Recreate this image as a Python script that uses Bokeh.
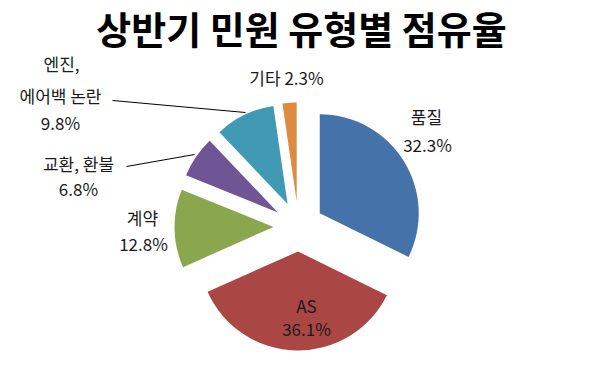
import math
from bokeh.plotting import figure
from bokeh.models import Range1d
from bokeh.core.properties import value
from bokeh.embed import file_html
from bokeh.resources import INLINE

# ---- data ----
title_text = "상반기 민원 유형별 점유율"
categories = ["품질", "AS", "계약", "교환, 환불", "엔진, 에어백 논란", "기타"]
shares = [32.3, 36.1, 12.8, 6.8, 9.8, 2.3]
colors = ["#4672AA", "#AA4644", "#8AA64F", "#6F5596", "#409AB4", "#DE8A41"]

# label lines per category (name parts)
label_lines = [["품질"], ["AS"], ["계약"], ["교환, 환불"], ["엔진,", "에어백 논란"], []]

# ---- layout (pixel-like coordinates, y measured from top of the window) ----
FW, FH = 592, 359
def Y(y):
    return FH - y

p = figure(width=FW, height=FH, output_backend="svg", toolbar_location=None,
           x_range=Range1d(0, FW), y_range=Range1d(0, FH), min_border=0)
p.axis.visible = False
p.grid.visible = False
p.outline_line_color = None
p.background_fill_color = "white"
p.border_fill_color = "white"

FONT = "Noto Sans CJK KR"

# title
p.text(x=[301], y=[Y(27)], text=[title_text], text_font=value(FONT), text_font_size="38px",
       text_font_style="bold", text_align="center", text_baseline="middle", text_color="#000000")

# pie
cx, cy = 298, Y(226)
radius = 99
explode = 25
total = sum(shares)
cum = 0.0
xs, ys, starts, ends = [], [], [], []
for v in shares:
    a0 = cum / total * 360.0
    a1 = (cum + v) / total * 360.0
    mid = math.radians((a0 + a1) / 2)
    xs.append(cx + explode * math.sin(mid))
    ys.append(cy + explode * math.cos(mid))
    starts.append(math.radians(90 - a1))
    ends.append(math.radians(90 - a0))
    cum += v

p.wedge(x=xs, y=ys, radius=radius, start_angle=starts, end_angle=ends,
        fill_color=colors, line_color=None)

# labels
pct = [f"{v:.1f}%" for v in shares]
lab_pos = [
    [(426, 116), (427, 144)],
    [(306, 305), (306, 328)],
    [(142, 217), (143, 243)],
    [(78, 163), (78, 188)],
    [(61, 63), (60, 95), (60, 122)],
]
tx, ty, tt = [], [], []
for i, lines in enumerate(label_lines):
    if not lines:
        continue
    texts = lines + [pct[i]]
    for t, (lx, ly) in zip(texts, lab_pos[i]):
        tx.append(lx); ty.append(Y(ly)); tt.append(t)
# 기타 on one line
tx.append(286); ty.append(Y(77)); tt.append(f"{categories[5]} {pct[5]}")

p.text(x=tx, y=ty, text=tt, text_font=value(FONT), text_font_size="17px",
       text_align="center", text_baseline="middle", text_color="#1a1a1a")

# leader lines
p.segment(x0=[112, 126], y0=[Y(100), Y(166)], x1=[245, 194], y1=[Y(112), Y(154)],
          line_color="#000000", line_width=1)

open("out.html", "w").write(file_html(p, INLINE))
